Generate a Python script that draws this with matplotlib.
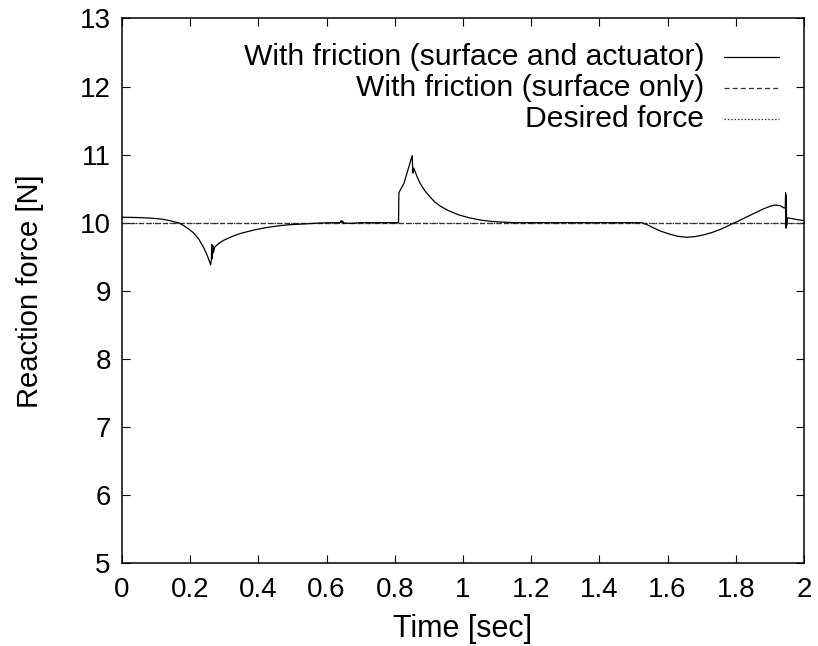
import matplotlib
matplotlib.use("Agg")
import matplotlib.pyplot as plt

plt.rcParams['font.family'] = ['Liberation Sans', 'DejaVu Sans']

# reaction force, friction on surface and actuator
t_full = [0.000, 0.050, 0.090, 0.120, 0.140, 0.155, 0.165, 0.180, 0.195, 0.210,
          0.225, 0.240, 0.250, 0.260, 0.262, 0.2635, 0.265, 0.2665, 0.268, 0.272,
          0.285, 0.300, 0.317, 0.335, 0.350, 0.370, 0.385, 0.420, 0.453, 0.490,
          0.530, 0.580, 0.620, 0.640, 0.643, 0.645, 0.647, 0.650, 0.670, 0.700,
          0.750, 0.811, 0.812, 0.827, 0.851, 0.853, 0.856, 0.865, 0.874, 0.888,
          0.903, 0.918, 0.933, 0.952, 0.970, 0.990, 1.020, 1.050, 1.080, 1.108,
          1.150, 1.300, 1.524, 1.540, 1.558, 1.580, 1.607, 1.630, 1.656, 1.680,
          1.705, 1.730, 1.754, 1.770, 1.790, 1.810, 1.830, 1.855, 1.880, 1.900,
          1.915, 1.930, 1.940, 1.945, 1.946, 1.947, 1.948, 1.949, 1.951, 1.960,
          1.980, 2.000]
f_full = [10.08, 10.075, 10.065, 10.05, 10.03, 10.01, 10.00, 9.96, 9.91, 9.85,
          9.76, 9.63, 9.52, 9.38, 9.45, 9.68, 9.47, 9.66, 9.56, 9.64,
          9.70, 9.745, 9.785, 9.82, 9.845, 9.87, 9.89, 9.925, 9.95, 9.97,
          9.98, 9.995, 10.0, 10.0, 10.03, 10.0, 10.025, 9.995, 9.99, 10.0,
          10.0, 10.0, 10.44, 10.58, 10.985, 10.73, 10.80, 10.68, 10.58, 10.47,
          10.38, 10.30, 10.245, 10.19, 10.15, 10.11, 10.07, 10.04, 10.02, 10.01,
          10.0, 10.0, 10.0, 9.97, 9.925, 9.875, 9.83, 9.80, 9.785, 9.795,
          9.82, 9.855, 9.90, 9.935, 9.985, 10.03, 10.08, 10.14, 10.20, 10.24,
          10.26, 10.25, 10.22, 10.21, 10.44, 9.92, 10.40, 9.95, 10.07, 10.065,
          10.045, 10.03]

# reaction force, friction on surface only
t_surface = [0.0, 0.5, 1.0, 1.5, 2.0]
f_surface = [10.0, 10.0, 10.0, 10.0, 10.0]

# desired force
t_desired = [0.0, 2.0]
f_desired = [10.0, 10.0]

labels = ['With friction (surface and actuator)',
          'With friction (surface only)',
          'Desired force']

fig = plt.figure(figsize=(8.18, 6.46), dpi=100)
ax = fig.add_axes([0.1491, 0.1285, 0.8338, 0.8429])

styles = [dict(color='black', lw=0.9, ls='-'),
          dict(color='#333333', lw=0.9, ls=(0, (4, 2.5))),
          dict(color='#333333', lw=0.9, ls=(0, (1.2, 1.5)))]

ax.plot(t_desired, f_desired, **styles[2])
ax.plot(t_surface, f_surface, **styles[1])
ax.plot(t_full, f_full, **styles[0])

ax.set_xlim(0, 2)
ax.set_ylim(5, 13)
ax.set_xticks([0, 0.2, 0.4, 0.6, 0.8, 1, 1.2, 1.4, 1.6, 1.8, 2])
ax.set_xticklabels(['0', '0.2', '0.4', '0.6', '0.8', '1', '1.2', '1.4', '1.6', '1.8', '2'])
ax.set_yticks(range(5, 14))
ax.tick_params(direction='in', length=6, width=0.8, top=True, right=True,
               labelsize=20, pad=8)
ax.tick_params(axis='x', pad=10)
for s in ax.spines.values():
    s.set_linewidth(1.1)

ax.set_xlabel('Time [sec]', fontsize=22, labelpad=8)
ax.set_ylabel('Reaction force [N]', fontsize=21, labelpad=26)

# gnuplot style key: right aligned text with line sample
for i, (lab, st) in enumerate(zip(labels, styles)):
    yk = 0.93 - i * 0.0572
    ax.text(0.854, yk, lab, transform=ax.transAxes, ha='right', va='center',
            fontsize=21.7)
    ax.plot([0.883, 0.964], [yk, yk], transform=ax.transAxes, **st)

fig.savefig('out.png', dpi=100)
